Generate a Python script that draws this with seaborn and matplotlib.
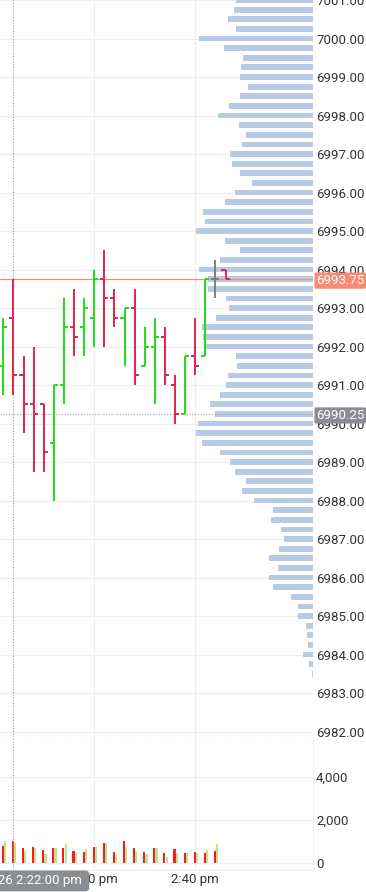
import matplotlib.pyplot as plt
import seaborn as sns
import numpy as np

# ---------------------------------------------------------------
# 1-minute bars, minutes past 2:00 pm (2:21 pm ... 2:43 pm)
bar_min = [21, 22, 23, 24, 25, 26, 27, 28, 29, 30, 31, 32,
           33, 34, 35, 36, 37, 38, 39, 40, 41, 42, 43]
opens  = [6991.50, 6992.75, 6991.25, 6990.50, 6990.50, 6989.50, 6991.00, 6992.50,
          6992.50, 6992.75, 6993.75, 6993.25, 6992.75, 6993.00, 6991.50, 6992.00,
          6992.25, 6991.00, 6990.25, 6991.75, 6991.75, 6993.75, 6994.00]
highs  = [6992.75, 6993.75, 6991.75, 6992.00, 6990.50, 6991.00, 6993.25, 6993.50,
          6993.25, 6994.00, 6994.50, 6993.50, 6993.00, 6993.50, 6992.50, 6992.75,
          6992.50, 6991.25, 6991.75, 6992.75, 6993.75, 6994.25, 6994.00]
lows   = [6990.75, 6990.75, 6989.75, 6988.75, 6988.75, 6988.00, 6990.50, 6991.75,
          6991.75, 6992.00, 6992.00, 6992.50, 6991.50, 6991.00, 6991.50, 6990.50,
          6991.00, 6990.00, 6990.25, 6991.25, 6991.75, 6993.25, 6993.75]
closes = [6992.50, 6991.25, 6990.50, 6990.25, 6989.25, 6991.00, 6992.50, 6992.25,
          6993.00, 6993.75, 6993.25, 6992.75, 6993.00, 6991.25, 6992.00, 6992.25,
          6991.25, 6990.25, 6991.75, 6991.50, 6993.75, 6993.75, 6993.75]

vol_down = [828, 1058, 736, 782, 644, 704, 722, 598, 538, 782, 966, 538,
            1058, 736, 538, 736, 492, 658, 506, 552, 474, 598, 40]
vol_up   = [1044, 966, 598, 722, 446, 722, 906, 538, 690, 782, 966, 414,
            782, 598, 446, 722, 290, 492, 474, 474, 630, 920, 20]

# volume at price, 7001.00 down to 6983.50 in 0.25 steps
prof_price = np.arange(7001.0, 6983.49, -0.25)
prof_vol = [770, 790, 850, 770, 1140, 890, 700, 720, 730, 650,
            730, 840, 950, 740, 670, 710, 830, 810, 730, 610,
            780, 880, 1100, 1080, 1180, 880, 730, 930, 1140, 1050,
            1050, 870, 840, 970, 1110, 1100, 1090, 770, 760, 850,
            870, 930, 1030, 980, 1150, 1180, 1110, 930, 830, 780,
            670, 710, 590, 400, 420, 320, 290, 340, 440, 350,
            440, 400, 220, 150, 150, 70, 60, 50, 100, 40, 13]

price_ticks = list(range(6982, 7002))
vol_ticks = [0, 2000, 4000]
time_ticks = [30, 40]
time_labels = ["2:30 pm", "2:40 pm"]

last_price = 6993.75
cross_price = 6990.25
cross_min = 22
cross_label = "3/26 2:22:00 pm "

# ---------------------------------------------------------------
sns.set_theme(style="white")
plt.rcParams['font.family'] = ['Roboto', 'DejaVu Sans']

FS = 9.5
C_UP = "#1EDC1E"
C_DN = "#E5234C"
C_FLAT = "#808080"
C_TXT = "#333333"
C_GRID = "#EEEEEE"
C_PROF = "#B7CBE6"
C_LAST = "#F58C73"
C_CROSS = "#8A8D91"

W, H = 366, 892
fig = plt.figure(figsize=(W / 100, H / 100), dpi=100)
rect_p = [0, 1 - 737 / H, 313 / W, 737 / H]
rect_v = [0, 1 - 870 / H, 313 / W, (870 - 737) / H]

# volume profile underneath the price bars
ax_prof = fig.add_axes(rect_p)
ax_price = fig.add_axes(rect_p, sharey=ax_prof)
ax_vol = fig.add_axes(rect_v, sharex=ax_price)

sns.histplot(y=prof_price, weights=prof_vol, binwidth=0.25,
             binrange=(prof_price.min() - 0.125, prof_price.max() + 0.125),
             shrink=0.6, color=C_PROF, alpha=1, linewidth=0, ax=ax_prof)
ax_prof.set_xlim(3130, 0)
ax_prof.set_xlabel("")
ax_prof.set_ylabel("")
ax_prof.set_xticks([])
ax_prof.grid(axis="y", color=C_GRID, lw=0.9)
ax_prof.tick_params(axis="y", length=0, labelleft=False, labelright=False)
for s in ax_prof.spines.values():
    s.set_visible(False)

# OHLC bars
x = np.array(bar_min)
cols = [C_UP if c > o else (C_DN if c < o else C_FLAT) for o, c in zip(opens, closes)]
ax_price.patch.set_visible(False)
ax_price.axhline(last_price, color=C_LAST, lw=0.9, zorder=2)
ax_price.axhline(cross_price, color="#A0A0A0", lw=0.8, ls=(0, (1, 1.5)), zorder=2)
ax_price.axvline(cross_min, color="#A0A0A0", lw=0.8, ls=(0, (1, 1.5)), zorder=2)
ax_price.vlines(x, lows, highs, colors=cols, lw=1.4, zorder=3)
ax_price.hlines(opens, x - 0.4, x, colors=cols, lw=1.4, zorder=3)
ax_price.hlines(closes, x, x + 0.4, colors=cols, lw=1.4, zorder=3)

ax_price.set_xlim(20.673, 51.663)
ax_price.set_ylim(6981.86, 7000.964)
ax_price.set_xticks(time_ticks)
ax_price.grid(axis="x", color=C_GRID, lw=0.9)
ax_price.grid(axis="y", visible=False)
ax_price.set_yticks(price_ticks)
ax_price.set_yticklabels(["%.2f" % p for p in price_ticks])
ax_price.yaxis.tick_right()
ax_price.tick_params(axis="y", length=0, pad=2.2, labelsize=FS, labelcolor=C_TXT)
ax_price.tick_params(axis="x", length=0, labelbottom=False)
for k, s in ax_price.spines.items():
    s.set_visible(k == "bottom")
ax_price.spines["bottom"].set_color("#AAAAAA")
ax_price.spines["bottom"].set_linestyle((0, (1, 2)))
ax_price.spines["bottom"].set_linewidth(0.8)

ax_price.annotate("%.2f" % last_price, xy=(1, last_price),
                  xycoords=("axes fraction", "data"), xytext=(2.2, 0),
                  textcoords="offset points", ha="left", va="center_baseline",
                  color="white", fontsize=FS, zorder=10, annotation_clip=False,
                  bbox=dict(boxstyle="round,pad=0.12", fc=C_LAST, ec="none"))
ax_price.annotate("%.2f" % cross_price, xy=(1, cross_price),
                  xycoords=("axes fraction", "data"), xytext=(2.2, 0),
                  textcoords="offset points", ha="left", va="center_baseline",
                  color="white", fontsize=FS, zorder=10, annotation_clip=False,
                  bbox=dict(boxstyle="round,pad=0.12", fc=C_CROSS, ec="none"))

# volume pane
ax_vol.bar(x - 0.05, vol_down, width=0.2, color="#FF1A1A", lw=0)
ax_vol.bar(x + 0.17, vol_up, width=0.22, color="#B8E68E", lw=0)
ax_vol.axvline(cross_min, color="#A0A0A0", lw=0.8, ls=(0, (1, 1.5)), zorder=2)
ax_vol.set_ylim(-300, 5829)
ax_vol.set_yticks(vol_ticks)
ax_vol.set_yticklabels(["{:,}".format(v) for v in vol_ticks])
ax_vol.yaxis.tick_right()
ax_vol.set_xticks(time_ticks)
ax_vol.set_xticklabels(time_labels)
ax_vol.grid(True, color=C_GRID, lw=0.9)
ax_vol.tick_params(axis="y", length=0, pad=2.2, labelsize=FS, labelcolor=C_TXT)
ax_vol.tick_params(axis="x", length=0, pad=2.5, labelsize=FS, labelcolor=C_TXT)
for k, s in ax_vol.spines.items():
    s.set_visible(k in ("bottom", "right"))
    s.set_color("#F0F0F0")
    s.set_linewidth(0.8)

ax_vol.annotate(cross_label, xy=(cross_min, 0),
                xycoords=("data", "axes fraction"), xytext=(51.8, -6.8),
                textcoords="offset points", ha="right", va="center_baseline",
                color="white", fontsize=FS, zorder=10, annotation_clip=False,
                bbox=dict(boxstyle="round,pad=0.3", fc=C_CROSS, ec="none"))

plt.savefig("out.png", dpi=100)
